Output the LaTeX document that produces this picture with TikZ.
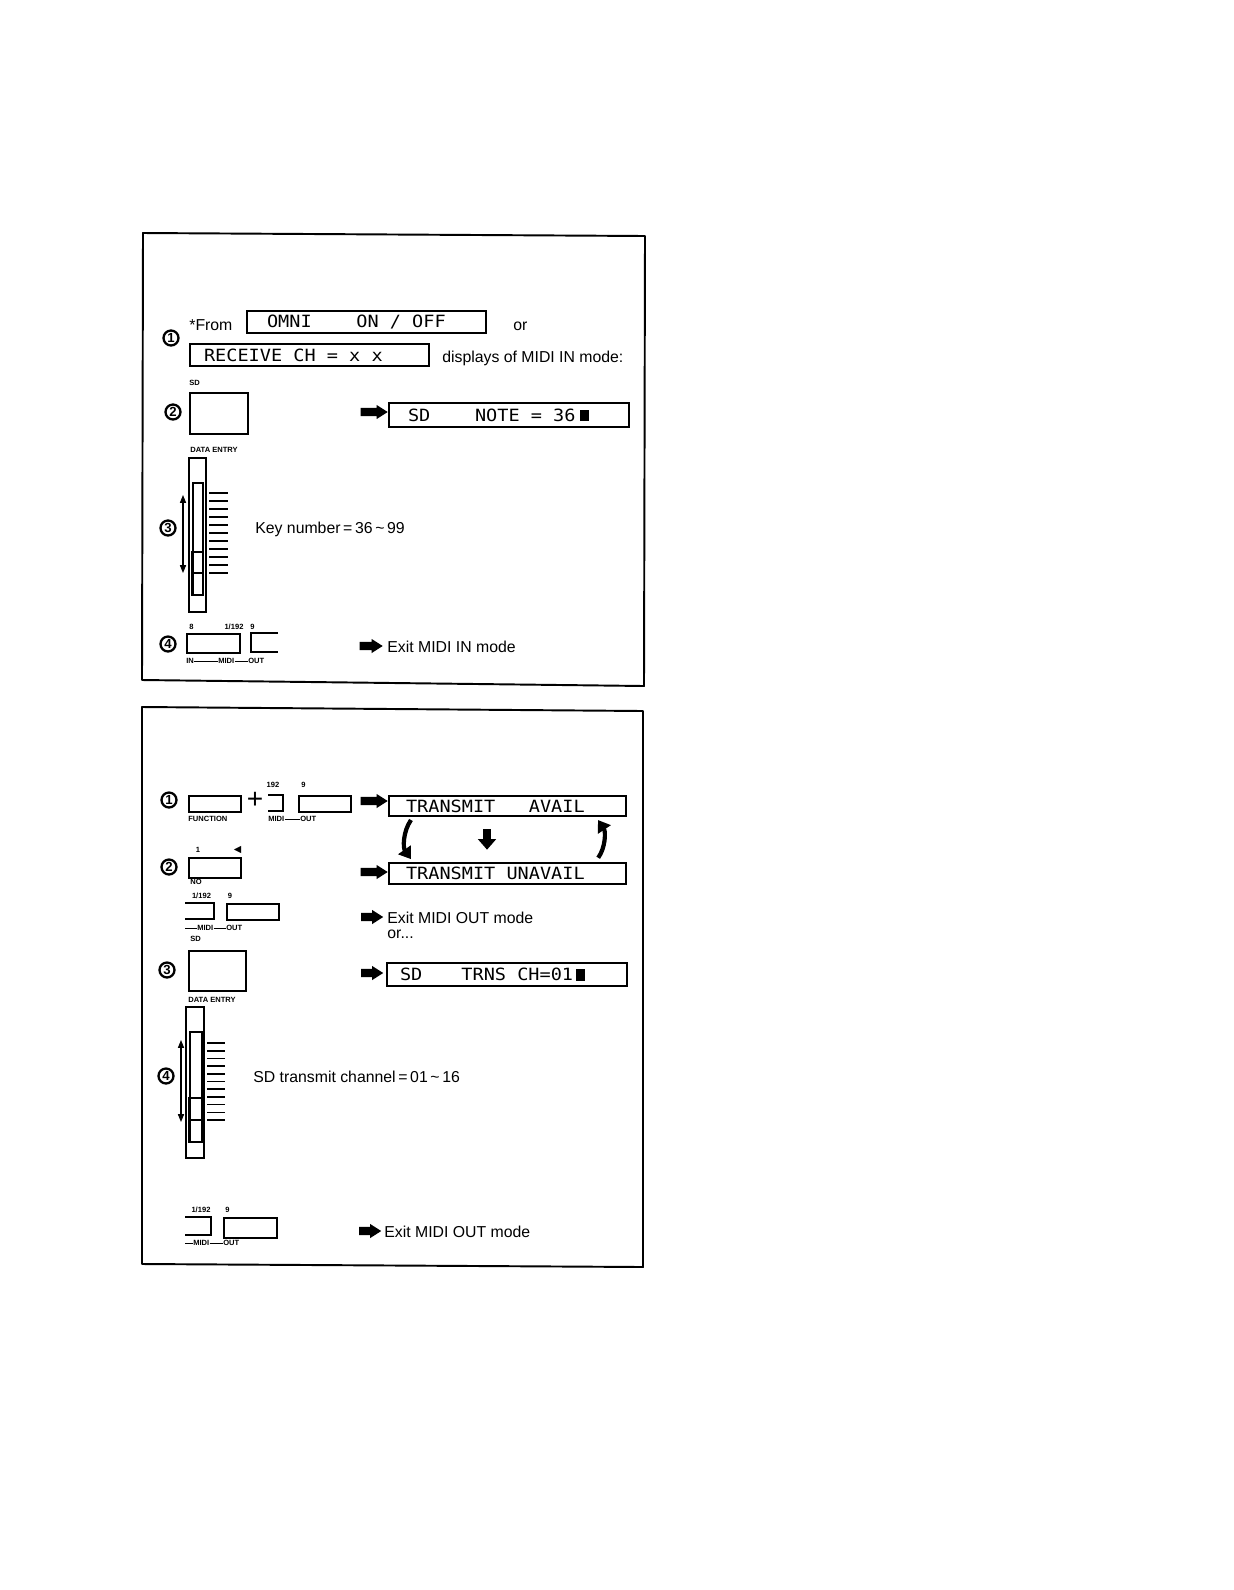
\documentclass[tikz,border=0pt]{standalone}
\usepackage{fontspec}
\setmainfont{Liberation Sans}
\newfontfamily\lcdfont[FakeStretch=1.1]{DejaVu Sans Mono}
\newfontfamily\symfont{DejaVu Sans}
\usetikzlibrary{arrows.meta, shapes.arrows}
\setlength{\parindent}{0pt}
\newcommand\lsp{\hspace{0.6622em}}

\begin{document}
\begin{tikzpicture}[x=0.02cm, y=-0.02cm,
    panel/.style={line width=1.1pt, line join=round},
    lcd/.style={draw, line width=1.2pt, rectangle, anchor=north west, inner xsep=0pt, inner ysep=0pt, align=left, font=\lcdfont\fontsize{9.6}{11}\selectfont},
    btn/.style={draw, line width=1.1pt, rectangle, anchor=north west, inner sep=0pt},
    stepnum/.style={circle, draw, line width=1.3pt, inner sep=0pt, minimum size=0.3cm, font=\fontsize{7.5}{8}\selectfont\bfseries},
    txt/.style={anchor=base west, inner sep=0pt, font=\fontsize{9}{11}\selectfont},
    keylbl/.style={inner sep=0pt, font=\fontsize{4.3}{5}\selectfont\bfseries},
    blk/.style={single arrow, fill=black, inner xsep=0pt, inner ysep=0.075cm, minimum width=0.27cm, minimum height=0.54cm, single arrow head extend=0.06cm, single arrow tip angle=65},
    curv/.style={line width=2.4pt, -{Triangle[width=8.5pt, length=6.5pt]}},
    slide/.style={line width=0.6pt, {Triangle[width=3.5pt, length=4.5pt]}-{Triangle[width=3.5pt, length=4.5pt]}}
]
    \fill[white] (0,0) rectangle (1234,1590);
    \useasboundingbox (0,0) rectangle (1234,1590);

    % Top panel: MIDI IN
    \draw[panel] (143,233) -- (645,236) -- (644,686) -- (142,680) -- cycle;

    % Step 1
    \node[stepnum] (in1) at (171,338) {1};
    \node[txt] (from) at (189,330) {*From};
    \node[lcd, text width=4.78cm, minimum height=0.44cm] (omni) at (246,310) {\hspace*{0.4cm}OMNI\lsp\lsp\lsp\lsp ON\lsp/\lsp OFF};
    \node[txt] (or1) at (513,330) {or};
    \node[lcd, text width=4.78cm, minimum height=0.44cm] (rcvch) at (189,343) {\hspace*{0.28cm}RECEIVE\lsp CH\lsp=\lsp x\lsp x};
    \node[txt] (disp) at (442,362) {displays of MIDI IN mode:};

    % Step 2
    \node[stepnum] (in2) at (173,412) {2};
    \node[keylbl, anchor=west] (sdinlbl) at (189,383) {SD};
    \node[btn, minimum width=1.16cm, minimum height=0.82cm] (sdin) at (189,392) {};
    \node[blk] (ar2) at (371,412) {};
    \node[lcd, text width=4.8cm, minimum height=0.48cm] (note) at (388,402) {\hspace*{0.38cm}SD\lsp\lsp\lsp\lsp NOTE\lsp=\lsp 36\hspace{2.5pt}\rule{5pt}{6.5pt}};

    % Step 3
    \node[keylbl, anchor=west] (dein) at (190,450) {DATA ENTRY};
    \draw[line width=1pt] (189,458) rectangle (206,612);
    \draw[line width=0.6pt] (193,483) rectangle (203,595);
    \draw[line width=1.2pt] (192,552) rectangle (203,595);
    \draw[line width=1pt] (192,573) -- (203,573);
    \foreach \y in {0,...,10}
        \draw[line width=0.9pt] (209,{493+8*\y}) -- (228,{493+8*\y});
    \draw[slide] (183,495) -- (183,573);
    \node[stepnum] (in3) at (168,528) {3};
    \node[txt] (keynum) at (255,533) {Key number\,=\,36\,\textasciitilde\,99};

    % Step 4
    \node[stepnum] (in4) at (168,644) {4};
    \node[btn, minimum width=1.06cm, minimum height=0.38cm] (midiin) at (186,633) {};
    \draw[line width=1.1pt] (278,633) -- (251,633) -- (251,652) -- (278,652);
    \node[keylbl] (k8) at (191.5,627) {8};
    \node[keylbl] (k192) at (234,627) {1/192};
    \node[keylbl] (k9) at (252.5,627) {9};
    \node[keylbl, anchor=west] (lin) at (186,661) {IN};
    \node[keylbl, anchor=west] (lmidi) at (218,661) {MIDI};
    \node[keylbl, anchor=west] (lout) at (248,661) {OUT};
    \draw[line width=0.5pt] (lin) -- (lmidi);
    \draw[line width=0.5pt] (lmidi) -- (lout);
    \node[blk, minimum height=0.46cm] (ar4) at (368,646) {};
    \node[txt] (exitin) at (387,652) {Exit MIDI IN mode};

    % Bottom panel: MIDI OUT
    \draw[panel] (142,707) -- (643,711) -- (643,1267) -- (142,1264) -- cycle;

    % Step 1
    \node[stepnum] (out1) at (169,800) {1};
    \node[btn, minimum width=1.04cm, minimum height=0.32cm] (func) at (188,795) {};
    \node[keylbl, anchor=west] (funclbl) at (188,819) {FUNCTION};
    \node[inner sep=0pt, font=\fontsize{16}{16}\selectfont] (plus) at (255,800) {+};
    \draw[line width=1.1pt] (268,795) -- (283,795) -- (283,811) -- (268,811);
    \node[btn, minimum width=1.04cm, minimum height=0.32cm] (out9a) at (298,795) {};
    \node[keylbl] (o192a) at (273,785) {192};
    \node[keylbl] (o9a) at (303.5,785) {9};
    \node[keylbl, anchor=west] (midia) at (268,819) {MIDI};
    \node[keylbl, anchor=west] (outa) at (300,819) {OUT};
    \draw[line width=0.5pt] (midia) -- (outa);
    \node[blk] (ar5) at (371,801) {};
    \node[lcd, text width=4.74cm, minimum height=0.4cm] (avail) at (388,795) {\hspace*{0.34cm}TRANSMIT\lsp\lsp\lsp AVAIL};

    % Step 2
    \node[stepnum] (out2) at (169,867) {2};
    \node[btn, minimum width=1.04cm, minimum height=0.4cm] (nobtn) at (188,857) {};
    \node[keylbl] (k1) at (198,850) {1};
    \node[keylbl, font=\symfont\fontsize{5.5}{6}\selectfont] (kback) at (237.5,850) {◀};
    \node[keylbl, anchor=west] (nolbl) at (190,882) {NO};
    \node[blk] (ar6) at (371,872) {};
    \node[lcd, text width=4.74cm, minimum height=0.42cm] (unavail) at (388,862) {\hspace*{0.34cm}TRANSMIT\lsp UNAVAIL};

    % toggle between the two displays
    \draw[curv, shorten <=2pt, shorten >=2pt] ([xshift=0.5cm]avail.south west) to[bend right=35] ([xshift=0.5cm]unavail.north west);
    \draw[line width=4.5pt, -{Triangle[width=10pt, length=6pt]}, shorten <=7pt, shorten >=7pt] ([xshift=-0.41cm]avail.south) -- ([xshift=-0.41cm]unavail.north);
    \draw[curv, shorten <=3pt, shorten >=2pt] ([xshift=-0.64cm]unavail.north east) to[bend right=35] ([xshift=-0.62cm]avail.south east);

    % Exit or go on
    \draw[line width=1.1pt] (185,903) -- (214,903) -- (214,919) -- (185,919);
    \node[btn, minimum width=1.04cm, minimum height=0.32cm] (out9b) at (226,903) {};
    \node[keylbl] (o192b) at (201.5,896) {1/192};
    \node[keylbl] (o9b) at (230,896) {9};
    \coordinate (lb) at (185,928);
    \node[keylbl, anchor=west] (midib) at (197,928) {MIDI};
    \node[keylbl, anchor=west] (outb) at (226,928) {OUT};
    \draw[line width=0.5pt] (lb) -- (midib);
    \draw[line width=0.5pt] (midib) -- (outb);
    \node[blk, minimum height=0.44cm] (ar7) at (369,917) {};
    \node[txt] (exitout1) at (387,923) {Exit MIDI OUT mode};
    \node[txt] (orx) at (387,938) {or...};

    % Step 3
    \node[keylbl, anchor=west] (sdoutlbl) at (190,939) {SD};
    \node[stepnum] (out3) at (167,970) {3};
    \node[btn, minimum width=1.14cm, minimum height=0.8cm] (sdout) at (188,950) {};
    \node[keylbl, anchor=west] (deout) at (188,999.5) {DATA ENTRY};
    \node[blk, minimum height=0.44cm] (ar8) at (369,973) {};
    \node[lcd, text width=4.8cm, minimum height=0.46cm] (trns) at (386,962) {\hspace*{0.26cm}SD\lsp\lsp\lsp\hspace{0.33em}TRNS\lsp CH=01\hspace{1.5pt}\rule{5pt}{6.5pt}};

    % Step 4
    \node[stepnum] (out4) at (166,1076) {4};
    \draw[line width=1pt] (186,1007) rectangle (204,1158);
    \draw[line width=0.6pt] (190,1032) rectangle (202,1142);
    \draw[line width=1.2pt] (189,1098) rectangle (202,1142);
    \draw[line width=1pt] (189,1120) -- (202,1120);
    \foreach \y in {0,...,10}
        \draw[line width=0.9pt] (207,{1043+7.7*\y}) -- (225,{1043+7.7*\y});
    \draw[slide] (181,1040) -- (181,1122);
    \node[txt] (chan) at (253,1082) {SD transmit channel\,=\,01\,\textasciitilde\,16};

    % Exit
    \draw[line width=1.1pt] (185,1217) -- (211,1217) -- (211,1235) -- (185,1235);
    \node[btn, minimum width=1.06cm, minimum height=0.4cm] (out9c) at (223,1217) {};
    \node[keylbl] (o192c) at (201,1209.5) {1/192};
    \node[keylbl] (o9c) at (227.5,1209.5) {9};
    \coordinate (lc) at (185,1243);
    \node[keylbl, anchor=west] (midic) at (193,1243) {MIDI};
    \node[keylbl, anchor=west] (outc) at (223,1243) {OUT};
    \draw[line width=0.5pt] (lc) -- (midic);
    \draw[line width=0.5pt] (midic) -- (outc);
    \node[blk, minimum height=0.44cm] (ar9) at (367,1231) {};
    \node[txt] (exitout2) at (384,1237) {Exit MIDI OUT mode};

\end{tikzpicture}
\end{document}
